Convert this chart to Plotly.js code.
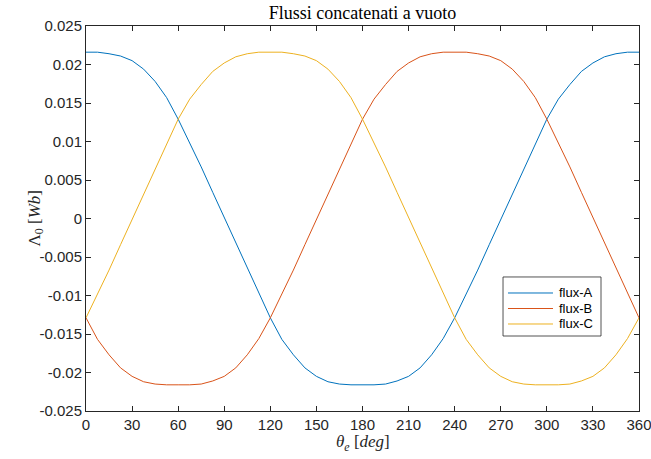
<!DOCTYPE html>
<html>
<head>
<meta charset="utf-8">
<script src="https://cdn.plot.ly/plotly-3.0.1.min.js"></script>
<style>
  html, body { margin: 0; padding: 0; background: #fff; }
  #chart { width: 651px; height: 459px; }
</style>
</head>
<body>
<div id="chart"></div>
<script>
// Electrical angle samples [deg]
const theta = [0, 7.5, 15, 22.5, 30, 37.5, 45, 52.5, 60, 67.5, 75, 82.5, 90,
  97.5, 105, 112.5, 120, 127.5, 135, 142.5, 150, 157.5, 165, 172.5, 180,
  187.5, 195, 202.5, 210, 217.5, 225, 232.5, 240, 247.5, 255, 262.5, 270,
  277.5, 285, 292.5, 300, 307.5, 315, 322.5, 330, 337.5, 345, 352.5, 360];

// No-load flux linkages [Wb]
const fluxA = [0.0216, 0.0216, 0.0214, 0.0211, 0.0205, 0.0194, 0.0178, 0.0157, 0.0129,
  0.0099, 0.0067, 0.0034, 0.0001, -0.0032, -0.0065, -0.0097, -0.0129,
  -0.0157, -0.0177, -0.0194, -0.0205, -0.0212, -0.0215, -0.0216, -0.0216,
  -0.0216, -0.0215, -0.0211, -0.0205, -0.0194, -0.0177, -0.0156, -0.0129,
  -0.0099, -0.0067, -0.0034, -0.0001, 0.0032, 0.0065, 0.0097, 0.0129,
  0.0155, 0.0174, 0.0191, 0.0202, 0.0210, 0.0214, 0.0216, 0.0216];

const fluxB = [-0.0129, -0.0157, -0.0177, -0.0194, -0.0205, -0.0212, -0.0215, -0.0216, -0.0216,
  -0.0216, -0.0215, -0.0211, -0.0205, -0.0194, -0.0177, -0.0156, -0.0129,
  -0.0099, -0.0067, -0.0034, -0.0001, 0.0032, 0.0065, 0.0097, 0.0129,
  0.0155, 0.0174, 0.0191, 0.0202, 0.0210, 0.0214, 0.0216, 0.0216,
  0.0216, 0.0214, 0.0211, 0.0205, 0.0194, 0.0178, 0.0157, 0.0129,
  0.0099, 0.0067, 0.0034, 0.0001, -0.0032, -0.0065, -0.0097, -0.0129];

const fluxC = [-0.0129, -0.0099, -0.0067, -0.0034, -0.0001, 0.0032, 0.0065, 0.0097, 0.0129,
  0.0155, 0.0174, 0.0191, 0.0202, 0.0210, 0.0214, 0.0216, 0.0216,
  0.0216, 0.0214, 0.0211, 0.0205, 0.0194, 0.0178, 0.0157, 0.0129,
  0.0099, 0.0067, 0.0034, 0.0001, -0.0032, -0.0065, -0.0097, -0.0129,
  -0.0157, -0.0177, -0.0194, -0.0205, -0.0212, -0.0215, -0.0216, -0.0216,
  -0.0216, -0.0215, -0.0211, -0.0205, -0.0194, -0.0177, -0.0156, -0.0129];

const seriesNames = ['flux-A', 'flux-B', 'flux-C'];
const seriesColors = ['#0072BD', '#D95319', '#EDB120'];

const xTickVals = [0, 30, 60, 90, 120, 150, 180, 210, 240, 270, 300, 330, 360];
const yTickVals = [-0.025, -0.02, -0.015, -0.01, -0.005, 0, 0.005, 0.01, 0.015, 0.02, 0.025];
const yTickText = ['-0.025', '-0.02', '-0.015', '-0.01', '-0.005', '0', '0.005', '0.01', '0.015', '0.02', '0.025'];

const traces = [fluxA, fluxB, fluxC].map((vals, i) => ({
  x: theta,
  y: vals,
  type: 'scatter',
  mode: 'lines',
  name: seriesNames[i],
  line: { color: seriesColors[i], width: 1 }
}));

const axisCommon = {
  showgrid: false,
  zeroline: false,
  showline: true,
  linecolor: '#262626',
  linewidth: 1,
  mirror: 'ticks',
  ticks: 'inside',
  ticklen: 5,
  tickwidth: 1,
  tickcolor: '#262626',
  ticklabeloverflow: 'allow',
  tickfont: { family: 'Liberation Sans, Arial, sans-serif', size: 15, color: '#262626' }
};

const serif = 'Liberation Serif, Times New Roman, serif';
const sans = 'Liberation Sans, Arial, sans-serif';

// Boxed legend in the lower right of the axes (paper coordinates)
const legendBox = { x0: 0.7541, x1: 0.9313, y0: 0.1948, y1: 0.3481 };
const legendRows = [0.3065, 0.2662, 0.2260];
const legendLine = { x0: 0.7631, x1: 0.8445, textX: 0.8517 };

const shapes = [{
  type: 'rect', xref: 'paper', yref: 'paper',
  x0: legendBox.x0, x1: legendBox.x1, y0: legendBox.y0, y1: legendBox.y1,
  line: { color: '#262626', width: 0.8 }, fillcolor: '#ffffff', layer: 'above'
}];
const annotations = [];
seriesNames.forEach((name, i) => {
  shapes.push({
    type: 'line', xref: 'paper', yref: 'paper',
    x0: legendLine.x0, x1: legendLine.x1, y0: legendRows[i], y1: legendRows[i],
    line: { color: seriesColors[i], width: 1 }, layer: 'above'
  });
  annotations.push({
    xref: 'paper', yref: 'paper', x: legendLine.textX, y: legendRows[i],
    xanchor: 'left', yanchor: 'middle', showarrow: false,
    text: name, font: { family: sans, size: 13, color: '#000' }
  });
});

// Axis labels
annotations.push({
  xref: 'paper', yref: 'paper', x: 0.5, y: -0.0831,
  xanchor: 'center', yanchor: 'middle', showarrow: false,
  text: '<i>θ</i><sub><i>e</i></sub> [<i>deg</i>]',
  font: { family: serif, size: 17, color: '#262626' }
});
annotations.push({
  xref: 'paper', yref: 'paper', x: -0.0922, y: 0.5,
  xanchor: 'center', yanchor: 'middle', showarrow: false, textangle: -90,
  text: 'Λ<sub>0</sub> [<i>Wb</i>]',
  font: { family: serif, size: 17, color: '#262626' }
});

const layout = {
  width: 651,
  height: 459,
  margin: { l: 86, r: 12, t: 26, b: 48 },
  paper_bgcolor: '#ffffff',
  plot_bgcolor: '#ffffff',
  showlegend: false,
  title: {
    text: 'Flussi concatenati a vuoto',
    font: { family: serif, size: 18, color: '#000' },
    x: 0.5, xref: 'paper', xanchor: 'center',
    y: 0.972, yref: 'container', yanchor: 'middle'
  },
  xaxis: Object.assign({}, axisCommon, {
    range: [0, 360],
    tickvals: xTickVals,
    ticktext: xTickVals.map(String)
  }),
  yaxis: Object.assign({}, axisCommon, {
    range: [-0.025, 0.025],
    tickvals: yTickVals,
    ticktext: yTickText
  }),
  shapes: shapes,
  annotations: annotations
};

Plotly.newPlot('chart', traces, layout, { displayModeBar: false, staticPlot: true });
</script>
</body>
</html>
